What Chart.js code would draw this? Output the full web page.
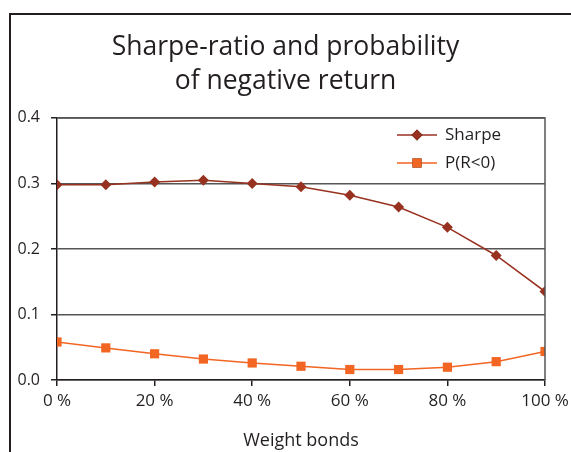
<!DOCTYPE html>
<html>
<head>
<meta charset="utf-8">
<script src="https://cdn.jsdelivr.net/npm/chart.js@4.4.1/dist/chart.umd.min.js"></script>
<style>
  html, body { margin: 0; padding: 0; background: #fff; overflow: hidden; }
  #wrap { width: 571px; height: 452px; position: relative; }
</style>
</head>
<body>
<div id="wrap"><canvas id="chart"></canvas></div>
<script>
// Data
const weights = [0, 10, 20, 30, 40, 50, 60, 70, 80, 90, 100];
const sharpe = [0.298, 0.298, 0.302, 0.305, 0.300, 0.295, 0.282, 0.264, 0.233, 0.190, 0.135];
const probNeg = [0.058, 0.049, 0.040, 0.032, 0.026, 0.021, 0.016, 0.016, 0.0195, 0.028, 0.0435];
const seriesNames = ['Sharpe', 'P(R<0)'];
const titleLines = ['Sharpe-ratio and probability', 'of negative return'];
const xTitle = 'Weight bonds';

const FONT = "'Open Sans', 'Noto Sans', sans-serif";
const TEXT = '#231f20';
const SHARPE_COLOR = '#983220';
const PROB_COLOR = '#f26522';

// Frame around the whole figure + legend inside the plot
const framePlugin = {
    id: 'frame',
    afterDraw(chart) {
        const ctx = chart.ctx;
        ctx.save();
        ctx.strokeStyle = TEXT;
        ctx.lineWidth = 2;
        ctx.strokeRect(10, 14, 800, 800);

        // plot box top/right edges
        const a = chart.chartArea;
        ctx.strokeStyle = '#555';
        ctx.lineWidth = 1.5;
        ctx.beginPath();
        ctx.moveTo(a.left, a.top);
        ctx.lineTo(a.right, a.top);
        ctx.lineTo(a.right, a.bottom);
        ctx.stroke();

        // legend
        const x0 = 397, rows = [135, 163];
        chart.data.datasets.forEach((ds, i) => {
            const y = rows[i];
            ctx.strokeStyle = ds.borderColor;
            ctx.lineWidth = 1.5;
            ctx.beginPath();
            ctx.moveTo(x0, y);
            ctx.lineTo(x0 + 40, y);
            ctx.stroke();
            Chart.helpers.drawPoint(ctx, {
                pointStyle: ds.pointStyle,
                radius: ds.pointRadius,
                borderWidth: 0
            }, x0 + 20, y);
            ctx.fillStyle = ds.pointBackgroundColor;
            ctx.fill();
            ctx.fillStyle = TEXT;
            ctx.font = '17px ' + FONT;
            ctx.textBaseline = 'middle';
            ctx.textAlign = 'left';
            ctx.fillText(ds.label, x0 + 48, y);
        });
        ctx.restore();
    }
};

const ctx = document.getElementById('chart').getContext('2d');
const chart = new Chart(ctx, {
    type: 'line',
    data: {
        datasets: [
            {
                label: seriesNames[0],
                data: weights.map((w, i) => ({ x: w, y: sharpe[i] })),
                borderColor: SHARPE_COLOR,
                borderWidth: 1.5,
                pointStyle: 'rectRot',
                pointRadius: 5.5,
                pointBackgroundColor: SHARPE_COLOR,
                pointBorderWidth: 0,
                tension: 0
            },
            {
                label: seriesNames[1],
                data: weights.map((w, i) => ({ x: w, y: probNeg[i] })),
                borderColor: PROB_COLOR,
                borderWidth: 1.5,
                pointStyle: 'rect',
                pointRadius: 6.5,
                pointBackgroundColor: PROB_COLOR,
                pointBorderWidth: 0,
                tension: 0
            }
        ]
    },
    options: {
        responsive: true,
        maintainAspectRatio: false,
        animation: false,
        layout: { padding: { left: 10, right: 10, top: 0, bottom: 0 } },
        plugins: {
            legend: { display: false },
            tooltip: { enabled: false },
            title: {
                display: true,
                text: titleLines,
                color: TEXT,
                font: { family: FONT, size: 26.5, weight: 'normal', lineHeight: 1.3 },
                padding: { top: 30, bottom: 19 }
            }
        },
        scales: {
            x: {
                type: 'linear',
                min: 0,
                max: 100,
                border: { color: TEXT, width: 1.5 },
                grid: { drawOnChartArea: false, color: TEXT, tickLength: 6, lineWidth: 1.5 },
                ticks: {
                    stepSize: 20,
                    color: TEXT,
                    padding: 5,
                    font: { family: FONT, size: 17 },
                    callback: v => v + ' %'
                },
                title: {
                    display: true,
                    text: xTitle,
                    color: TEXT,
                    font: { family: FONT, size: 18 },
                    padding: { top: 14, bottom: 0 }
                },
                afterFit(scale) {
                    scale.paddingLeft = 0;
                    scale.paddingRight = 26;
                }
            },
            y: {
                min: 0,
                max: 0.4,
                border: { color: TEXT, width: 1.5 },
                grid: { color: '#555', lineWidth: 1.5, tickLength: 6, tickColor: TEXT },
                ticks: {
                    stepSize: 0.1,
                    color: TEXT,
                    padding: 11,
                    font: { family: FONT, size: 16 },
                    callback: v => v.toFixed(1)
                },
                afterFit(scale) { scale.width = 47; }
            }
        }
    },
    plugins: [framePlugin]
});
</script>
</body>
</html>
